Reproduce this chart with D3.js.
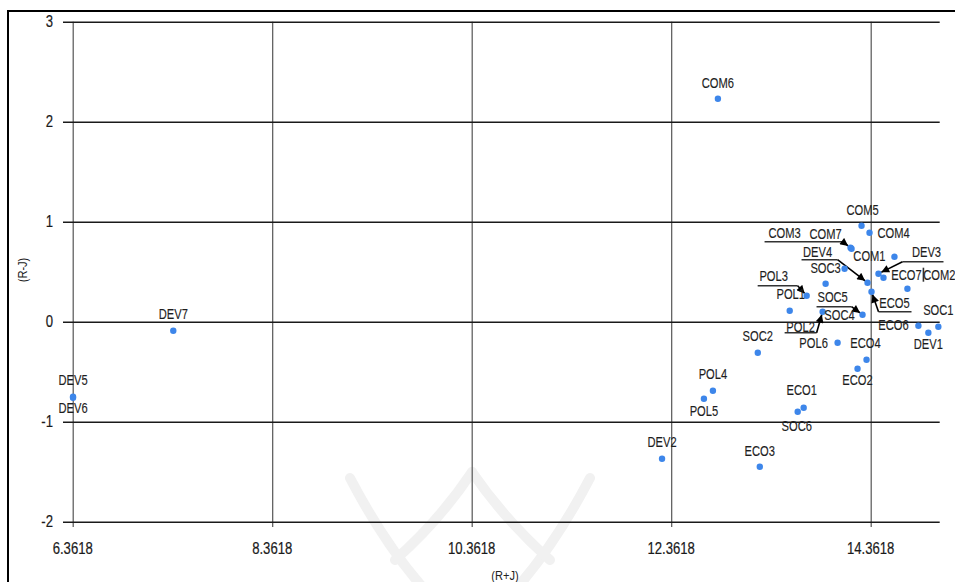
<!DOCTYPE html>
<html><head><meta charset="utf-8">
<script src="https://cdn.jsdelivr.net/npm/d3@7"></script>
<style>
body{margin:0;background:#fff;}
svg{display:block;font-family:"Liberation Sans",Arial,sans-serif;}
</style>
</head><body>
<svg id="c" width="955" height="582"></svg>
<script>
// ---- data ----
const names   = ["COM1","COM2","COM3","COM4","COM5","COM6","COM7",
                 "DEV1","DEV2","DEV3","DEV4","DEV5","DEV6","DEV7",
                 "ECO1","ECO2","ECO3","ECO4","ECO5","ECO6","ECO7",
                 "POL1","POL2","POL3","POL4","POL5","POL6",
                 "SOC1","SOC2","SOC3","SOC4","SOC5","SOC6"];
const xValues = [14.60,14.73,14.16,14.35,14.27,12.83,14.17,
                 14.94,12.27,14.44,14.33,6.365,6.365,7.37,
                 13.69,14.23,13.25,14.32,14.37,14.84,14.49,
                 13.55,13.88,13.72,12.78,12.69,14.03,
                 15.04,13.23,14.10,14.28,13.91,13.63];
const yValues = [0.65,0.33,0.74,0.89,0.96,2.23,0.73,
                 -0.11,-1.37,0.48,0.39,-0.75,-0.76,-0.09,
                 -0.86,-0.47,-1.45,-0.38,0.30,-0.04,0.44,
                 0.11,0.10,0.26,-0.69,-0.77,-0.21,
                 -0.05,-0.31,0.53,0.07,0.38,-0.90];
const xTickValues = [6.3618, 8.3618, 10.3618, 12.3618, 14.3618];
const xTickLabels = ["6.3618","8.3618","10.3618","12.3618","14.3618"];
const yTickValues = [-2,-1,0,1,2,3];
const yTickLabels = ["-2","-1","0","1","2","3"];
const xTitle = "(R+J)";
const yTitle = "(R-J)";

// ---- label layout (pixel offsets of label centre from its point) ----
const labelOffsets = {
  COM1:[-25,-1], COM2:[32,-14], COM3:[-66,-15], COM4:[24,0], COM5:[1,-16], COM6:[0,-16], COM7:[-26,-15],
  DEV1:[0,11], DEV2:[0,-17], DEV3:[48,-22], DEV4:[-50,-31], DEV5:[0,-17], DEV6:[0,10], DEV7:[0,-17],
  ECO1:[-2,-18], ECO2:[0,11], ECO3:[0,-16], ECO4:[-1,-17], ECO5:[23,11], ECO6:[-25,-1], ECO7:[23,-3],
  POL1:[1,-17], POL2:[-22,15], POL3:[-33,-20], POL4:[0,-17], POL5:[0,12], POL6:[-24,0],
  SOC1:[0,-17], SOC2:[0,-17], SOC3:[-19,-1], SOC4:[-23,0], SOC5:[7,13], SOC6:[-1,14]
};
// callout polylines (relative to point); arrow drawn from last vertex to the point
const callouts = {
  COM3:{pts:[[-86,-6],[-8,-6]], arrow:true},
  DEV4:{pts:[[-66,-23],[-30,-23]], arrow:true},
  POL3:{pts:[[-49,-10],[-9,-10]], arrow:true},
  SOC4:{pts:[[-46,-8],[-11,-8]], arrow:true},
  POL2:{pts:[[-38,21],[-6,21]], arrow:true},
  ECO5:{pts:[[40,20],[7,20]], arrow:true},
  DEV3:{pts:[[65,-12],[24,-12]], arrow:true},
  COM2:{pts:[[16,-21],[16,-7]], arrow:false}
};

// ---- drawing ----
const svg = d3.select("#c");
const W = 955, H = 582;
svg.append("rect").attr("width",W).attr("height",H).attr("fill","#fff");

// faint watermark
const wm = svg.append("g").attr("fill","none").attr("stroke","#f1f1f1").attr("stroke-width",10).attr("stroke-linecap","round");
wm.append("path").attr("d","M350,478 Q385,545 425,590");
wm.append("path").attr("d","M590,478 Q555,545 515,590");
wm.append("path").attr("d","M472,472 Q440,520 395,560");
wm.append("path").attr("d","M472,472 Q505,520 550,560");

// outer frame
svg.append("rect").attr("x",8).attr("y",11).attr("width",980).attr("height",620)
  .attr("fill","none").attr("stroke","#000").attr("stroke-width",2);

const x = d3.scaleLinear().domain([6.3618, 15.0536]).range([72.7, 939.7]);
const y = d3.scaleLinear().domain([-2, 3]).range([521.7, 21.7]);

// vertical grid (x axis)
const gx = svg.append("g").attr("transform","translate(0,527)")
  .call(d3.axisBottom(x).tickValues(xTickValues).tickSize(-(527 - y(3))).tickFormat(""));
gx.select(".domain").remove();
gx.selectAll(".tick line").attr("stroke","#555").attr("stroke-width",1.2);

// horizontal grid (y axis)
const gy = svg.append("g").attr("transform","translate(63,0)")
  .call(d3.axisLeft(y).tickValues(yTickValues).tickSize(-(x.range()[1] - 63)).tickFormat(""));
gy.select(".domain").remove();
gy.selectAll(".tick line").attr("stroke","#1a1a1a").attr("stroke-width",1.5);

// tick labels
svg.append("g").selectAll("text").data(xTickValues).join("text")
  .attr("transform", d => `translate(${x(d)},${548}) scale(0.82,1)`)
  .attr("text-anchor","middle").attr("dy","0.35em")
  .attr("font-size",16).attr("fill","#1a1a1a").attr("stroke","#1a1a1a").attr("stroke-width",0.2)
  .text((d,i) => xTickLabels[i]);
svg.append("g").selectAll("text").data(yTickValues).join("text")
  .attr("transform", d => `translate(${53},${y(d)}) scale(0.82,1)`)
  .attr("text-anchor","end").attr("dy","0.35em")
  .attr("font-size",16).attr("fill","#1a1a1a").attr("stroke","#1a1a1a").attr("stroke-width",0.2)
  .text((d,i) => yTickLabels[i]);

// axis titles
svg.append("text").attr("transform","translate(505,575) scale(0.85,1)")
  .attr("text-anchor","middle").attr("dy","0.35em").attr("font-size",13).attr("fill","#222").text(xTitle);
svg.append("text").attr("transform","translate(22,270) rotate(-90) scale(0.85,1)")
  .attr("text-anchor","middle").attr("dy","0.35em").attr("font-size",13).attr("fill","#222").text(yTitle);

// arrow marker
const defs = svg.append("defs");
defs.append("marker").attr("id","arr").attr("viewBox","0 0 10 10").attr("refX",10).attr("refY",5)
  .attr("markerWidth",9).attr("markerHeight",8).attr("markerUnits","userSpaceOnUse").attr("orient","auto")
  .append("path").attr("d","M0,0 L10,5 L0,10 Z").attr("fill","#000");

const pts = names.map((n,i) => ({name:n, px:x(xValues[i]), py:y(yValues[i])}));

// callouts
const cg = svg.append("g");
pts.forEach(p => {
  const c = callouts[p.name];
  if (!c) return;
  const poly = c.pts.map(([dx,dy]) => [p.px+dx, p.py+dy]);
  cg.append("path").attr("d", d3.line()(poly)).attr("fill","none").attr("stroke","#333").attr("stroke-width",1.6);
  if (c.arrow) {
    const [lx,ly] = poly[poly.length-1];
    const ang = Math.atan2(p.py-ly, p.px-lx);
    const ex = p.px - 3*Math.cos(ang), ey = p.py - 3*Math.sin(ang);
    cg.append("line").attr("x1",lx).attr("y1",ly).attr("x2",ex).attr("y2",ey)
      .attr("stroke","#000").attr("stroke-width",1.6).attr("marker-end","url(#arr)");
  }
});

// points
svg.append("g").selectAll("circle").data(pts).join("circle")
  .attr("cx", d => d.px).attr("cy", d => d.py).attr("r",3.2).attr("fill","#3d86ea");

// labels
svg.append("g").selectAll("text").data(pts).join("text")
  .attr("transform", d => { const o = labelOffsets[d.name]; return `translate(${d.px+o[0]},${d.py+o[1]}) scale(0.72,1)`; })
  .attr("text-anchor","middle").attr("dy","0.36em")
  .attr("font-size",15.5).attr("fill","#1e1e1e").attr("stroke","#1e1e1e").attr("stroke-width",0.15)
  .text(d => d.name);
</script>
</body></html>
